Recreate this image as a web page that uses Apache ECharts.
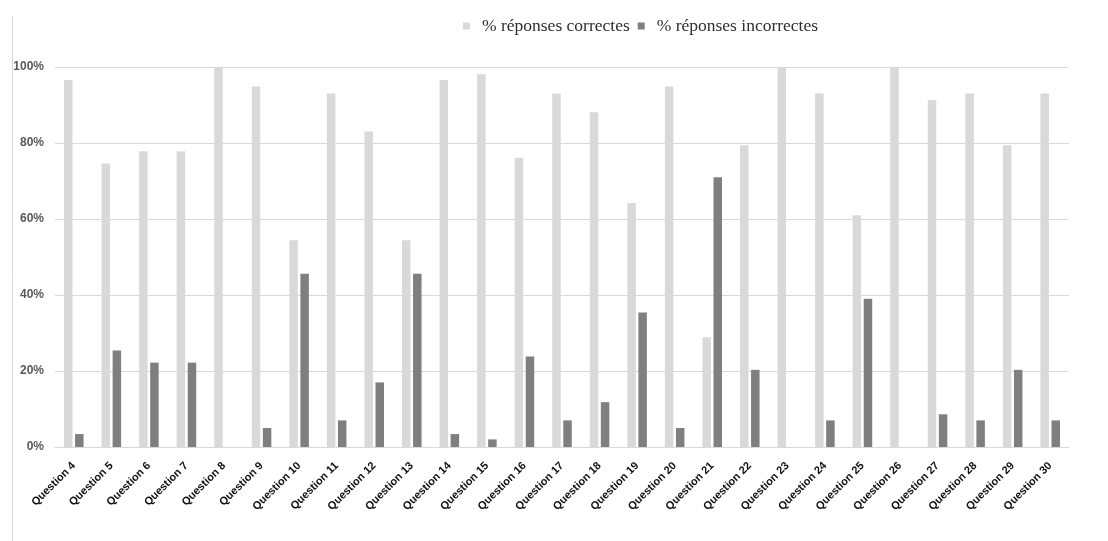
<!DOCTYPE html>
<html>
<head>
<meta charset="utf-8">
<title>Réponses par question</title>
<script src="https://cdn.jsdelivr.net/npm/echarts@6/dist/echarts.min.js"></script>
<style>
  html, body { margin: 0; padding: 0; background: #ffffff; }
  #chart { width: 1108px; height: 541px; }
</style>
</head>
<body>
<div id="chart"></div>
<script>
// Questions in survey order
const questions = [
  'Question 4', 'Question 5', 'Question 6', 'Question 7', 'Question 8', 'Question 9',
  'Question 10', 'Question 11', 'Question 12', 'Question 13', 'Question 14', 'Question 15',
  'Question 16', 'Question 17', 'Question 18', 'Question 19', 'Question 20', 'Question 21',
  'Question 22', 'Question 23', 'Question 24', 'Question 25', 'Question 26', 'Question 27',
  'Question 28', 'Question 29', 'Question 30'
];

// Share of correct answers (%)
const correctPct = [
  96.6, 74.6, 77.8, 77.8, 100, 94.9,
  54.4, 93.0, 83.0, 54.4, 96.6, 98.1,
  76.1, 93.0, 88.1, 64.2, 94.9, 28.9,
  79.4, 100, 93.0, 61.0, 100, 91.3,
  93.0, 79.4, 93.0
];

// Share of incorrect answers (%)
const incorrectPct = [
  3.4, 25.4, 22.2, 22.2, 0, 5.0,
  45.6, 7.0, 17.0, 45.6, 3.4, 2.0,
  23.8, 7.0, 11.8, 35.4, 5.0, 71.0,
  20.3, 0, 7.0, 39.0, 0, 8.6,
  7.0, 20.3, 7.0
];

// Value-axis ticks
const yTicks = [0, 20, 40, 60, 80, 100];

const seriesNames = ['% réponses correctes', '% réponses incorrectes'];
const seriesColors = ['#d9d9d9', '#7f7f7f'];

const chart = echarts.init(document.getElementById('chart'), null, { renderer: 'canvas' });

chart.setOption({
  animation: false,
  backgroundColor: '#ffffff',
  textStyle: { fontFamily: 'Liberation Sans, Arial, sans-serif' },
  graphic: [{
    // left edge of the chart frame
    type: 'line',
    shape: { x1: 12.5, y1: 16, x2: 12.5, y2: 541 },
    style: { stroke: '#d9d9d9', lineWidth: 1 },
    silent: true
  }],
  legend: {
    top: 12,
    left: 458,
    itemWidth: 7,
    itemHeight: 7,
    itemGap: 8,
    icon: 'rect',
    data: seriesNames,
    textStyle: {
      fontFamily: 'Liberation Serif, Times New Roman, serif',
      fontSize: 17.5,
      color: '#2e2e2e',
      padding: [0, 0, 0, 7]
    }
  },
  grid: {
    left: 55,
    right: 39,
    top: 67,
    bottom: 94,
    containLabel: false
  },
  xAxis: {
    type: 'category',
    data: questions,
    axisLine: { show: true, lineStyle: { color: '#d9d9d9', width: 1 } },
    axisTick: { show: false },
    axisLabel: {
      interval: 0,
      rotate: 45,
      margin: 17,
      fontSize: 11,
      fontWeight: 'bold',
      color: '#111111'
    }
  },
  yAxis: {
    type: 'value',
    min: yTicks[0],
    max: yTicks[yTicks.length - 1],
    interval: yTicks[1] - yTicks[0],
    axisLine: { show: false },
    axisTick: { show: false },
    splitLine: { lineStyle: { color: '#d9d9d9', width: 1 } },
    axisLabel: {
      margin: 11,
      fontSize: 12,
      fontWeight: 'bold',
      color: '#595959',
      formatter: v => v + '%'
    }
  },
  series: [
    {
      name: seriesNames[0],
      type: 'bar',
      data: correctPct,
      barWidth: 8.5,
      barGap: '30%',
      itemStyle: { color: seriesColors[0] }
    },
    {
      name: seriesNames[1],
      type: 'bar',
      data: incorrectPct,
      barWidth: 8.5,
      barGap: '30%',
      itemStyle: { color: seriesColors[1] }
    }
  ]
});
</script>
</body>
</html>
